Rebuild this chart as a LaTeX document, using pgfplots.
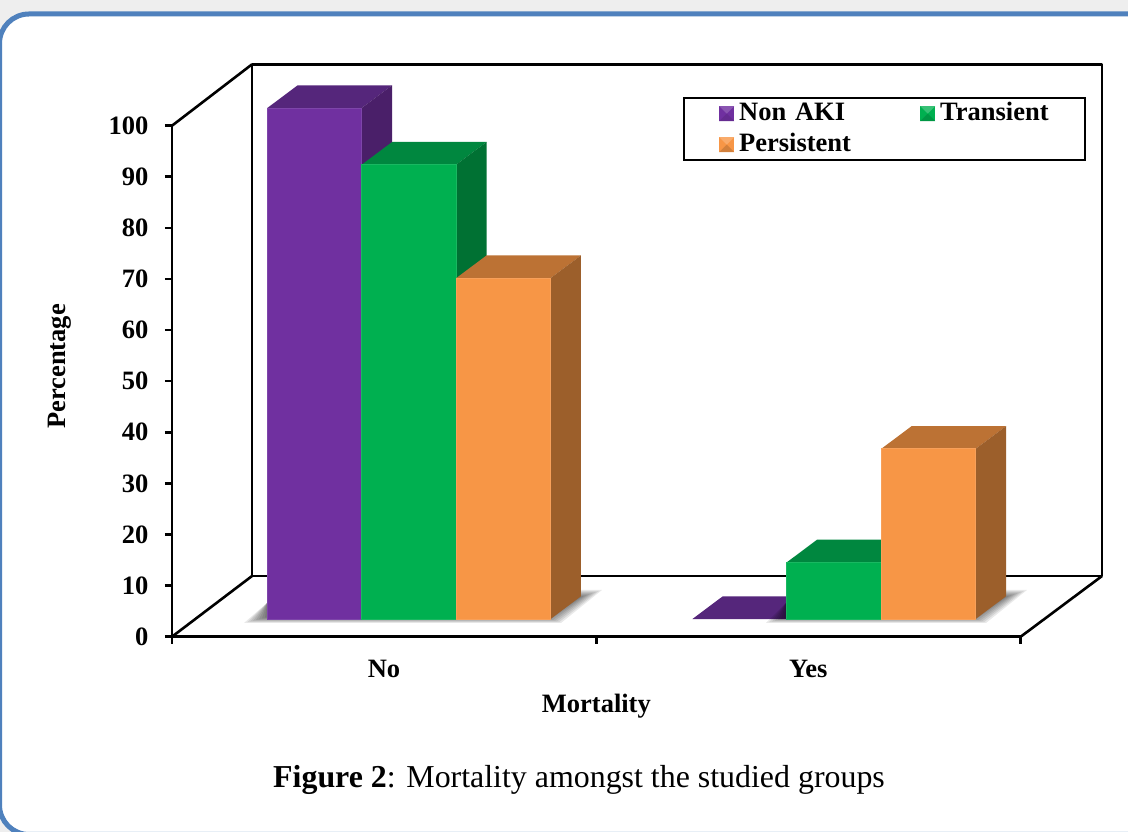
\documentclass[border=0pt]{standalone}
\usepackage{fontspec}
\setmainfont{Liberation Serif}
\usepackage{pgfplots}
\pgfplotsset{compat=1.18}
\lefthyphenmin=62

% Bar colours: front, top and side faces
\definecolor{purF}{HTML}{7030A0}\definecolor{purT}{HTML}{55267B}\definecolor{purS}{HTML}{4A1F69}
\definecolor{greF}{HTML}{00B050}\definecolor{greT}{HTML}{00873F}\definecolor{greS}{HTML}{007133}
\definecolor{oraF}{HTML}{F79646}\definecolor{oraT}{HTML}{BC7234}\definecolor{oraS}{HTML}{9C5F2B}
\definecolor{cardline}{HTML}{4F81BD}
\definecolor{page}{HTML}{EEEEEE}

% Geometry of the pseudo-3D bars, in axis units
\def\barw{0.2225}   % bar width
\def\depx{0.0716}   % depth, x direction
\def\depy{4.45}     % depth, y direction
\def\base{3.46}     % height of the bar foot above the front floor edge

% left edge, value, front, top and side colours
\newcommand{\threedbar}[5]{%
  \pgfmathsetmacro\xa{#1}%
  \pgfmathsetmacro\xb{#1+\barw}%
  \pgfmathsetmacro\xc{#1+\barw+\depx}%
  \pgfmathsetmacro\xd{#1+\depx}%
  \pgfmathsetmacro\ya{\base}%
  \pgfmathsetmacro\yb{#2+\base}%
  \pgfmathsetmacro\yc{#2+\base+\depy}%
  \pgfmathsetmacro\yd{\base+\depy}%
  \addplot[fill=#4,draw=none,forget plot] coordinates {(\xa,\yb) (\xb,\yb) (\xc,\yc) (\xd,\yc)} --cycle;
  \ifdim#2pt>0pt
    \addplot[fill=#5,draw=none,forget plot] coordinates {(\xb,\ya) (\xc,\yd) (\xc,\yc) (\xb,\yb)} --cycle;
    \addplot[fill=#3,draw=#3!90!white,line width=0.7pt,forget plot] coordinates {(\xa,\ya) (\xb,\ya) (\xb,\yb) (\xa,\yb)} --cycle;
  \fi
}
% One layer of a floor shadow; #1 is the layer's spread, #2 shifts it sideways
% (both in points on the page).
\newcommand{\shadowlayer}[2]{%
  \pgfmathsetmacro\sAx{(575+#2-172)/424.35}%
  \pgfmathsetmacro\sTx{(590+#2+3*#1-172)/424.35}%
  \pgfmathsetmacro\sTy{(636.7-594+#1)/5.11}%
  \pgfmathsetmacro\sCx{(553+#2+2*#1-172)/424.35}%
  \pgfmathsetmacro\sCy{(636.7-620-0.75*#1)/5.11}%
  \pgfmathsetmacro\sEy{(636.7-603)/5.11}%
  \addplot[fill=black,draw=none,opacity=0.085,forget plot] coordinates
    {(\sAx,\sTy) (\sTx,\sTy) (\sCx,\sCy) (\sDx,\sCy) (\sEx,\sEy)} --cycle;
}
% #1 left end of the shadow, #2 the corner hidden by the bars, #3 sideways shift
\newcommand{\softshadow}[3]{%
  \foreach \d in {-4,-3,...,4} {%
    \pgfmathsetmacro\sDx{(#1-3*\d-172)/424.35}%
    \pgfmathsetmacro\sEx{(#2-172)/424.35}%
    \global\let\sDx\sDx \global\let\sEx\sEx
    \xdef\d{\d}%
    \shadowlayer{\d}{#3}%
  }%
}
% bevelled legend key
\newcommand{\keyswatch}[3]{%
  \path[fill=#1,draw=none] (0pt,-7.5pt) rectangle (15pt,7.5pt);
  \path[fill=#2,draw=none] (0pt,7.5pt) -- (15pt,7.5pt) -- (7.5pt,0pt) -- cycle;
  \path[fill=#3,draw=none] (0pt,-7.5pt) -- (15pt,-7.5pt) -- (7.5pt,0pt) -- cycle;
}

\begin{document}
\begin{tikzpicture}[x=1pt,y=1pt]
  \path[use as bounding box] (0,0) rectangle (1128,832);
  % page and rounded card
  \fill[page] (0,0) rectangle (1128,832);
  \begin{scope}
    \clip (0,0) rectangle (1128,832);
    \filldraw[fill=white,draw=cardline,line width=5pt]
      (1140,818) -- (29,818) arc[start angle=90,end angle=180,radius=29.5]
      -- (-0.5,27) arc[start angle=180,end angle=270,radius=29.5] -- (1140,-2.5) -- cycle;
  \end{scope}

  \begin{axis}[
    at={(172pt,195.3pt)}, anchor=south west,
    scale only axis, width=848.7pt, height=511pt,
    xmin=0, xmax=2, ymin=0, ymax=100,
    clip=false,
    axis x line*=bottom, axis y line*=left,
    axis line style={line width=2.6pt,black,-},
    tick align=outside, major tick length=7pt,
    tick style={black,line width=2.6pt},
    xtick={0,1,2}, xticklabels={No,Yes,{}},
    ytick={0,10,...,100},
    /pgf/number format/assume math mode=true,
    tick label style={font=\fontsize{26.5}{30}\selectfont\bfseries},
    x tick label style={xshift=212pt,yshift=-13pt},
    y tick label style={xshift=-13pt},
    xlabel={Mortality}, ylabel={Percentage},
    every axis x label/.style={at={(rel axis cs:0.5,-0.136)},anchor=center,font=\fontsize{26.5}{30}\selectfont\bfseries},
    every axis y label/.style={at={(rel axis cs:-0.132,0.5288)},rotate=90,anchor=center,font=\fontsize{26.5}{30}\selectfont\bfseries},
    legend columns=2,
    legend cell align=left,
    legend style={
      at={(rel axis cs:0.6021,1.0562)}, anchor=north west,
      draw=black, line width=2.3pt, fill=white,
      inner xsep=35pt, inner ysep=0pt,
      font=\fontsize{26.5}{30}\selectfont\bfseries,
      nodes={text width=110pt,text height=19pt,text depth=6pt,inner xsep=0pt,inner ysep=3pt,line width=0pt},
      /tikz/column 1/.style={column sep=5pt},
      /tikz/column 2/.style={column sep=71pt},
      /tikz/column 3/.style={column sep=5pt},
    },
  ]
    % back wall and floor
    \addplot[black,line width=2.6pt,line join=round,forget plot] coordinates
      {(0.1885,11.87) (0.1885,112) (2.1916,112) (2.1916,11.87) (0.1885,11.87)};
    \addplot[black,line width=2.6pt,forget plot] coordinates {(0,100) (0.1885,112)};
    \addplot[black,line width=2.6pt,forget plot] coordinates {(0,0) (0.1885,11.87)};
    \addplot[black,line width=2.6pt,forget plot] coordinates {(2,0) (2.1916,11.87)};

    % Mortality: No
    \softshadow{256}{267}{0}
    \threedbar{0.2246}{100}{purF}{purT}{purS}
    \threedbar{0.4471}{88.9}{greF}{greT}{greS}
    \threedbar{0.6696}{66.7}{oraF}{oraT}{oraS}

    % Mortality: Yes
    \threedbar{1.2264}{0}{purF}{purT}{purS}
    \softshadow{778}{786}{425}
    \threedbar{1.4489}{11.1}{greF}{greT}{greS}
    \threedbar{1.6714}{33.3}{oraF}{oraT}{oraS}

    \addlegendimage{legend image code/.code={\keyswatch{purF}{purF!82!white}{purF!90!black}}}
    \addlegendentry{Non AKI}
    \addlegendimage{legend image code/.code={\keyswatch{greF}{greF!78!white}{greF!85!black}}}
    \addlegendentry{Transient}
    \addlegendimage{legend image code/.code={\keyswatch{oraF}{oraF!80!white}{oraF!85!black}}}
    \addlegendentry{Persistent}
  \end{axis}

  % caption under the chart
  \node[anchor=base west,inner sep=0pt,font=\fontsize{31.9}{36}\selectfont] at (273,44)
    {\textbf{Figure 2}: Mortality amongst the studied groups};
\end{tikzpicture}
\end{document}
